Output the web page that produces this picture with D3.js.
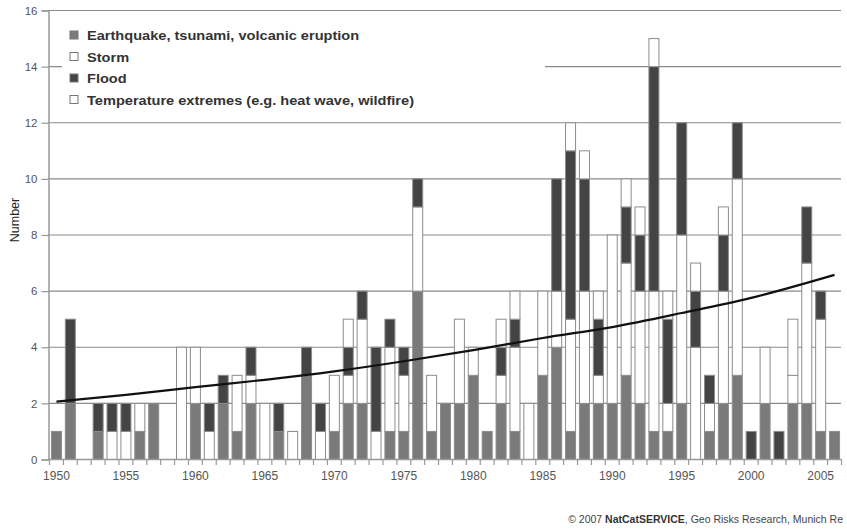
<!DOCTYPE html>
<html><head><meta charset="utf-8">
<script src="https://cdn.jsdelivr.net/npm/d3@7"></script>
<style>body{margin:0;background:#fff}svg{display:block}</style>
</head><body><svg id="c" width="847" height="532"></svg>
<script>
const years=[1950,1951,1952,1953,1954,1955,1956,1957,1958,1959,1960,1961,1962,1963,1964,1965,1966,1967,1968,1969,1970,1971,1972,1973,1974,1975,1976,1977,1978,1979,1980,1981,1982,1983,1984,1985,1986,1987,1988,1989,1990,1991,1992,1993,1994,1995,1996,1997,1998,1999,2000,2001,2002,2003,2004,2005,2006];
const earthquake=[1,2,0,1,0,0,1,2,0,0,2,0,2,1,2,0,1,0,3,0,1,2,2,0,1,1,6,1,2,2,3,1,2,1,0,3,4,1,2,2,2,3,2,1,1,2,0,1,2,3,0,2,0,2,2,1,1];
const storm=[0,0,0,0,1,1,1,0,0,4,2,1,0,2,1,2,0,1,0,1,2,1,3,1,3,2,3,2,0,3,1,0,1,3,2,3,2,4,4,1,6,4,4,5,1,6,4,1,4,7,0,2,0,1,5,4,0];
const flood=[0,3,0,1,1,1,0,0,0,0,0,1,1,0,1,0,1,0,1,1,0,1,1,3,1,1,1,0,0,0,0,0,1,1,0,0,4,6,4,2,0,2,2,8,3,4,2,1,2,2,1,0,1,0,2,1,0];
const temperature=[0,0,0,0,0,0,0,0,0,0,0,0,0,0,0,0,0,0,0,0,0,1,0,0,0,0,0,0,0,0,0,0,1,1,0,0,0,1,1,1,0,1,1,1,1,0,1,0,1,0,0,0,0,2,0,0,0];
const trendYears=[1950,1955,1960,1965,1970,1975,1980,1985,1990,1995,2000,2006];
const trendValues=[2.06,2.3,2.58,2.84,3.14,3.5,3.9,4.33,4.72,5.22,5.76,6.58];
const yTicks=[0,2,4,6,8,10,12,14,16];
const xLabels=[1950,1955,1960,1965,1970,1975,1980,1985,1990,1995,2000,2005];
const seriesKeys=["earthquake","storm","flood","temperature"];
const seriesNames=["Earthquake, tsunami, volcanic eruption","Storm","Flood","Temperature extremes (e.g. heat wave, wildfire)"];
const colors={earthquake:"#7a7a7a",storm:"#ffffff",flood:"#444444",temperature:"#ffffff"};

const rows=years.map((yr,i)=>({year:yr,earthquake:earthquake[i],storm:storm[i],flood:flood[i],temperature:temperature[i]}));
const svg=d3.select("#c");
const font="Liberation Sans, Arial, sans-serif";
const x=d3.scaleBand().domain(years).range([49.5,841.5]).paddingInner(0.28).paddingOuter(0.14);
const y=d3.scaleLinear().domain([0,16]).range([459.5,10.5]);

// gridlines
svg.append("g").selectAll("line").data(yTicks.filter(d=>d>0)).join("line")
  .attr("x1",48).attr("x2",841).attr("y1",d=>y(d)).attr("y2",d=>y(d))
  .attr("stroke","#8a8a8a").attr("stroke-width",1.2);

// legend background covering gridlines
svg.append("rect").attr("x",62).attr("y",20).attr("width",483).attr("height",92).attr("fill","#fff");

// bars
const stacked=d3.stack().keys(seriesKeys)(rows);
svg.append("g").selectAll("g").data(stacked).join("g")
  .attr("fill",d=>colors[d.key])
  .selectAll("rect").data(d=>d.filter(s=>s[1]-s[0]>0)).join("rect")
  .attr("x",d=>x(d.data.year)).attr("width",x.bandwidth())
  .attr("y",d=>y(d[1])).attr("height",d=>y(d[0])-y(d[1]))
  .attr("stroke","#8c8c8c").attr("stroke-width",1);

// trend line
const trend=trendYears.map((yr,i)=>[x(yr)+x.bandwidth()/2,y(trendValues[i])]);
svg.append("path").attr("d",d3.line().curve(d3.curveMonotoneX)(trend))
  .attr("fill","none").attr("stroke","#111").attr("stroke-width",2.2);

// y axis
const ya=svg.append("g").attr("transform","translate(48.5,0)")
  .call(d3.axisLeft(y).tickValues(yTicks).tickSize(7).tickPadding(4));
ya.select(".domain").attr("stroke","#999").attr("stroke-width",1.5);
ya.selectAll(".tick line").attr("stroke","#999").attr("stroke-width",1.2);
ya.selectAll("text").attr("font-family",font).attr("font-size",11.5).attr("fill","#555");

// x axis
const xa=svg.append("g").attr("transform","translate(0,459.5)")
  .call(d3.axisBottom(x).tickValues(xLabels).tickSize(0).tickPadding(12));
xa.select(".domain").remove();
xa.selectAll("text").attr("font-family",font).attr("font-size",12).attr("fill","#555");
svg.append("line").attr("x1",48).attr("x2",841.5).attr("y1",459.5).attr("y2",459.5).attr("stroke","#999").attr("stroke-width",1.5);
svg.append("g").selectAll("line").data(years.concat([null])).join("line")
  .attr("x1",(d,i)=>49.5+i*x.step()).attr("x2",(d,i)=>49.5+i*x.step())
  .attr("y1",459.5).attr("y2",465).attr("stroke","#999").attr("stroke-width",1.2);

// y label
svg.append("text").attr("transform","translate(19,220) rotate(-90)")
  .attr("text-anchor","middle").attr("font-family",font).attr("font-size",12.5).attr("fill","#222").text("Number");

// legend
const lg=svg.append("g").selectAll("g").data(seriesKeys).join("g")
  .attr("transform",(d,i)=>`translate(70,${35+i*21.5})`);
lg.append("rect").attr("x",0).attr("y",-4).attr("width",8).attr("height",8)
  .attr("fill",d=>colors[d]).attr("stroke","#777").attr("stroke-width",1);
lg.append("text").attr("transform","translate(17,5) scale(1.08,1)").attr("font-family",font).attr("font-size",13.5)
  .attr("font-weight","bold").attr("fill","#333").text((d,i)=>seriesNames[i]);

// footer
const ft=svg.append("text").attr("x",843).attr("y",523).attr("text-anchor","end")
  .attr("font-family",font).attr("font-size",10.5).attr("fill","#444");
ft.append("tspan").text("© 2007 ");
ft.append("tspan").attr("font-weight","bold").attr("fill","#333").text("NatCatSERVICE");
ft.append("tspan").text(", Geo Risks Research, Munich Re");
</script></body></html>
